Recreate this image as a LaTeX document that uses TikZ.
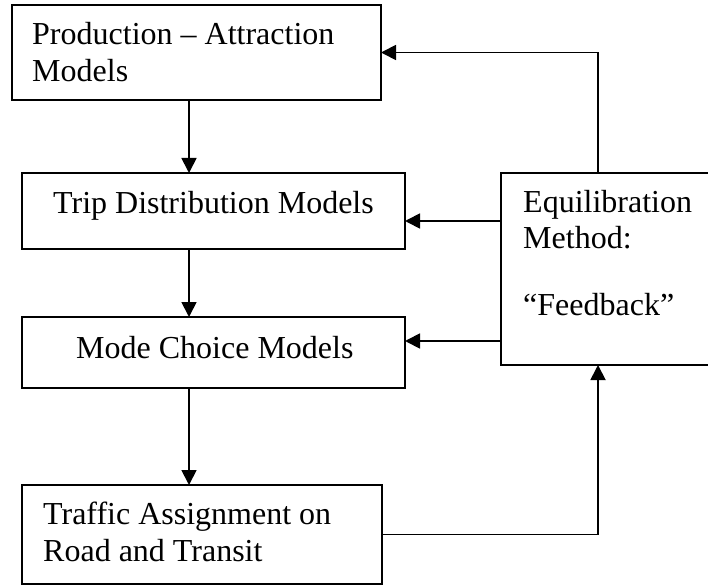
\documentclass[tikz,border=0pt]{standalone}
\usepackage{fontspec}
\setmainfont{Liberation Serif}
\usetikzlibrary{arrows.meta}
\begin{document}
\begin{tikzpicture}[x=1pt,y=-1pt,
 box/.style={draw, line width=2pt, rectangle, inner sep=0pt, outer sep=0pt, anchor=north west},
 lbl/.style={anchor=base west, inner sep=0pt, font=\fontsize{32}{37}\selectfont},
 conn/.style={line width=1.8pt, -{Triangle[length=15pt,width=15pt]}}]
\useasboundingbox (0,0) rectangle (708,585);
% boxes
\node[box, minimum width=369pt, minimum height=95pt]  (pa) at (12,5) {};
\node[box, minimum width=383pt, minimum height=76pt]  (td) at (22,173) {};
\node[box, minimum width=383pt, minimum height=71pt]  (mc) at (22,317) {};
\node[box, minimum width=360pt, minimum height=99pt]  (ta) at (22,485) {};
\node[box, minimum width=211pt, minimum height=192pt] (eq) at (501,173) {};
% texts
\node[lbl] (pa1) at (32,45) {Production – Attraction};
\node[lbl] (pa2) at (32,82) {Models};
\node[lbl] (td1) at (53,213) {Trip Distribution Models};
\node[lbl] (mc1) at (76,358) {Mode Choice Models};
\node[lbl] (ta1) at (43,524) {Traffic Assignment on};
\node[lbl] (ta2) at (43,561) {Road and Transit};
\node[lbl] (eq1) at (523,212) {Equilibration};
\node[lbl] (eq2) at (523,248) {Method:};
\node[lbl] (eq3) at (523,315) {“Feedback”};
% helper coordinates
\coordinate (cx) at (189,0);
\coordinate (fx) at (598,0);
\coordinate (y2) at (0,221);
\coordinate (y3) at (0,341);
% main chain
\draw[conn] (pa.south -| cx) -- (td.north -| cx);
\draw[conn] (td.south -| cx) -- (mc.north -| cx);
\draw[conn] (mc.south -| cx) -- (ta.north -| cx);
% feedback
\draw[conn] (ta.east) -| (eq.south -| fx);
\draw[conn] (eq.north -| fx) |- (pa.east);
\draw[conn] (eq.west |- y2) -- (td.east |- y2);
\draw[conn] (eq.west |- y3) -- (mc.east |- y3);
\end{tikzpicture}
\end{document}
